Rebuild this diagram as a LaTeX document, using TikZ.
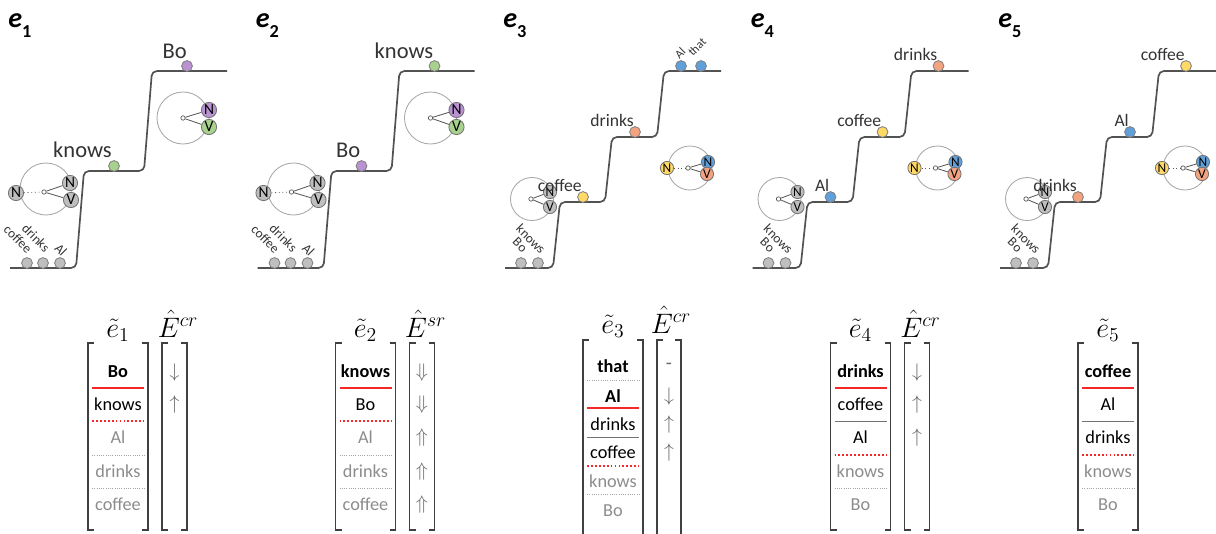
\RequirePackage{fix-cm}
\documentclass[tikz,border=0pt]{standalone}
\usepackage[no-math]{fontspec}
\setmainfont{Carlito}

\definecolor{ballgray}{RGB}{191,191,191}
\definecolor{ballgreen}{RGB}{169,209,142}
\definecolor{ballpurple}{RGB}{186,146,210}
\definecolor{ballblue}{RGB}{95,160,218}
\definecolor{ballorange}{RGB}{244,163,128}
\definecolor{ballyellow}{RGB}{255,217,102}
\definecolor{sepred}{RGB}{245,40,40}

\begin{document}
\begin{tikzpicture}[x=0.025cm,y=-0.025cm,
  stair/.style={draw=black!68,line width=1.2pt,rounded corners=3.5pt},
  ball/.style={circle,draw=black!50,line width=0.6pt,minimum size=0.27cm,inner sep=0pt},
  nvbig/.style={circle,draw=black!55,line width=0.6pt,minimum size=0.38cm,inner sep=0pt,font=\fontsize{11}{11}\selectfont},
  nvsmall/.style={nvbig,minimum size=0.33cm,font=\fontsize{9.5}{9.5}\selectfont},
  ring/.style={circle,draw=black!35,line width=0.6pt,inner sep=0pt},
  hub/.style={circle,draw=black!65,fill=white,line width=0.5pt,minimum size=0.11cm,inner sep=0pt},
  spoke/.style={draw=black!65,line width=0.6pt},
  paneltag/.style={anchor=base west,inner sep=0pt,font=\fontsize{20}{20}\selectfont\bfseries\itshape},
  bigword/.style={anchor=base east,inner sep=0pt,text=black!80,font=\fontsize{16}{16}\selectfont},
  word/.style={anchor=base east,inner sep=0pt,text=black!80,font=\fontsize{12.5}{12.5}\selectfont},
  tilt/.style={inner sep=0pt,text=black!80,rotate=-45,font=\fontsize{9.5}{9.5}\selectfont},
  tiltup/.style={inner sep=0pt,text=black!80,rotate=45,font=\fontsize{8.5}{8.5}\selectfont},
  colhead/.style={anchor=base,inner sep=0pt,font=\fontsize{20}{24}\selectfont},
  cell/.style={anchor=base,inner sep=0pt,font=\fontsize{13}{13}\selectfont},
  lead/.style={cell,font=\fontsize{13}{13}\selectfont\bfseries},
  dimcell/.style={cell,text=black!45},
  arr/.style={inner sep=0pt,text=black!60,font=\fontsize{14}{14}\selectfont},
  brk/.style={draw=black!75,line width=1.3pt},
  redline/.style={draw=sepred,line width=1.4pt},
  reddot/.style={draw=sepred,line width=1.4pt,dash pattern=on 1.3pt off 1.5pt},
  graydot/.style={draw=black!35,line width=0.6pt,dash pattern=on 0.6pt off 1pt},
  graysep/.style={draw=black!55,line width=0.7pt}]
\useasboundingbox (0,0) rectangle (1216,533);

% ---------------- e1
\node[paneltag] (tag1) at (8,27) {e\raisebox{-7.5pt}{\fontsize{13}{13}\selectfont\upshape 1}};
\draw[stair] (10,268) -- (76,268) -- (84,171) -- (144,171) -- (152,71) -- (227,71);
\node[ring,minimum size=1.3cm] (ringa1) at (46,189) {};
\node[hub] (huba1) at (44,192) {};
\node[nvbig,fill=ballgray] (na1) at (16,193) {N};
\node[nvbig,fill=ballgray] (nb1) at (70,183) {N};
\node[nvbig,fill=ballgray] (vb1) at (71,200) {V};
\draw[spoke,dotted] (na1) -- (huba1);
\draw[spoke] (huba1) -- (nb1);
\draw[spoke] (huba1) -- (vb1);
\node[ring,minimum size=1.3cm] (ringb1) at (183,118) {};
\node[hub] (hubb1) at (183,118) {};
\node[nvbig,fill=ballpurple] (nc1) at (209,110) {N};
\node[nvbig,fill=ballgreen] (vc1) at (209,127) {V};
\draw[spoke] (hubb1) -- (nc1);
\draw[spoke] (hubb1) -- (vc1);
\node[ball,fill=ballgray] (cof1) at (27,263) {};
\node[ball,fill=ballgray] (dri1) at (43,263) {};
\node[ball,fill=ballgray] (al1) at (60,263) {};
\node[tilt] (lcof1) at (18,239) {coffee};
\node[tilt] (ldri1) at (36,238) {drinks};
\node[tilt] (lal1) at (61,250) {Al};
\node[ball,fill=ballgreen] (kno1) at (114,166) {};
\node[bigword] (lkno1) at (112,157) {knows};
\node[ball,fill=ballpurple] (bo1) at (187,66) {};
\node[bigword] (lbo1) at (187,58) {Bo};
% matrix
\node[colhead] (ta1) at (118,337) {$\tilde{e}_1$};
\node[colhead] (ha1) at (178,337) {$\hat{E}^{cr}$};
\draw[brk] (94,343) -- (88,343) -- (88,530) -- (94,530);
\draw[brk] (142,343) -- (148,343) -- (148,530) -- (142,530);
\draw[brk] (168,343) -- (162,343) -- (162,530) -- (168,530);
\draw[brk] (181,343) -- (187,343) -- (187,530) -- (181,530);
\node[lead] (ra1) at (118,377) {Bo};
\node[cell] (rb1) at (118,410) {knows};
\node[dimcell] (rc1) at (118,443) {Al};
\node[dimcell] (rd1) at (118,477) {drinks};
\node[dimcell] (re1) at (118,510) {coffee};
\draw[redline] (92,388) -- (144,388);
\draw[reddot] (92,421) -- (144,421);
\draw[graydot] (92,455) -- (144,455);
\draw[graydot] (92,488) -- (144,488);
\node[arr] (aa1) at (174.5,373) {$\downarrow$};
\node[arr] (ab1) at (174.5,405) {$\uparrow$};

% ---------------- e2
\begin{scope}[shift={(247.5,0)}]
\node[paneltag] (tag2) at (8,27) {e\raisebox{-7.5pt}{\fontsize{13}{13}\selectfont\upshape 2}};
\draw[stair] (10,268) -- (76,268) -- (84,171) -- (144,171) -- (152,71) -- (227,71);
\node[ring,minimum size=1.3cm] (ringa2) at (46,189) {};
\node[hub] (huba2) at (44,192) {};
\node[nvbig,fill=ballgray] (na2) at (16,193) {N};
\node[nvbig,fill=ballgray] (nb2) at (70,183) {N};
\node[nvbig,fill=ballgray] (vb2) at (71,200) {V};
\draw[spoke,dotted] (na2) -- (huba2);
\draw[spoke] (huba2) -- (nb2);
\draw[spoke] (huba2) -- (vb2);
\node[ring,minimum size=1.3cm] (ringb2) at (183,118) {};
\node[hub] (hubb2) at (183,118) {};
\node[nvbig,fill=ballpurple] (nc2) at (209,110) {N};
\node[nvbig,fill=ballgreen] (vc2) at (209,127) {V};
\draw[spoke] (hubb2) -- (nc2);
\draw[spoke] (hubb2) -- (vc2);
\node[ball,fill=ballgray] (cof2) at (27,263) {};
\node[ball,fill=ballgray] (dri2) at (43,263) {};
\node[ball,fill=ballgray] (al2) at (60,263) {};
\node[tilt] (lcof2) at (18,239) {coffee};
\node[tilt] (ldri2) at (36,238) {drinks};
\node[tilt] (lal2) at (61,250) {Al};
\node[ball,fill=ballpurple] (bo2) at (114,166) {};
\node[bigword] (lbo2) at (113,157) {Bo};
\node[ball,fill=ballgreen] (kno2) at (187,66) {};
\node[bigword] (lkno2) at (186,58) {knows};
% matrix
\node[colhead] (ta2) at (118,337) {$\tilde{e}_2$};
\node[colhead] (ha2) at (178,337) {$\hat{E}^{sr}$};
\draw[brk] (94,343) -- (88,343) -- (88,530) -- (94,530);
\draw[brk] (142,343) -- (148,343) -- (148,530) -- (142,530);
\draw[brk] (168,343) -- (162,343) -- (162,530) -- (168,530);
\draw[brk] (181,343) -- (187,343) -- (187,530) -- (181,530);
\node[lead] (ra2) at (118,377) {knows};
\node[cell] (rb2) at (118,410) {Bo};
\node[dimcell] (rc2) at (118,443) {Al};
\node[dimcell] (rd2) at (118,477) {drinks};
\node[dimcell] (re2) at (118,510) {coffee};
\draw[redline] (92,388) -- (144,388);
\draw[reddot] (92,421) -- (144,421);
\draw[graydot] (92,455) -- (144,455);
\draw[graydot] (92,488) -- (144,488);
\node[arr] (aa2) at (174.5,373) {$\Downarrow$};
\node[arr] (ab2) at (174.5,405) {$\Downarrow$};
\node[arr] (ac2) at (174.5,438) {$\Uparrow$};
\node[arr] (ad2) at (174.5,472) {$\Uparrow$};
\node[arr] (ae2) at (174.5,505) {$\Uparrow$};
\end{scope}

% ---------------- e3
\begin{scope}[shift={(495,0)}]
\node[paneltag] (tag3) at (8,27) {e\raisebox{-7.5pt}{\fontsize{13}{13}\selectfont\upshape 3}};
\draw[stair] (10,268) -- (58,268) -- (65,202) -- (110,202) -- (117,137) -- (162,137) -- (169,71) -- (226,71);
\node[ring,minimum size=1.075cm] (ringa3) at (37,199) {};
\node[hub] (huba3) at (36,199) {};
\node[nvsmall,fill=ballgray] (nb3) at (55,192) {N};
\node[nvsmall,fill=ballgray] (vb3) at (55,207) {V};
\draw[spoke] (huba3) -- (nb3);
\draw[spoke] (huba3) -- (vb3);
\node[ring,minimum size=1.1cm] (ringb3) at (195,168) {};
\node[hub] (hubb3) at (193,168) {};
\node[nvsmall,fill=ballyellow] (na3) at (172,168) {N};
\node[nvsmall,fill=ballblue] (nc3) at (213,162) {N};
\node[nvsmall,fill=ballorange] (vc3) at (212,174) {V};
\draw[spoke,dotted] (na3) -- (hubb3);
\draw[spoke] (hubb3) -- (nc3);
\draw[spoke] (hubb3) -- (vc3);
\node[ball,fill=ballgray] (bo3) at (26,263) {};
\node[ball,fill=ballgray] (kno3) at (43,263) {};
\node[tilt] (lbo3) at (25,245) {Bo};
\node[tilt] (lkno3) at (36,239) {knows};
\node[ball,fill=ballyellow] (cof3) at (88,197) {};
\node[word] (lcof3) at (87,191) {coffee};
\node[ball,fill=ballorange] (dri3) at (140,132) {};
\node[word] (ldri3) at (139,126) {drinks};
\node[ball,fill=ballblue] (al3) at (186,66) {};
\node[ball,fill=ballblue] (tha3) at (206,66) {};
\node[tiltup] (lal3) at (185,53) {Al};
\node[tiltup] (ltha3) at (202,47) {that};
% matrix
\node[colhead] (ta3) at (118,333) {$\tilde{e}_3$};
\node[colhead] (ha3) at (176,333) {$\hat{E}^{cr}$};
\draw[brk] (94,340) -- (88,340) -- (88,540);
\draw[brk] (142,340) -- (148,340) -- (148,540);
\draw[brk] (168,340) -- (162,340) -- (162,540);
\draw[brk] (180,340) -- (186,340) -- (186,540);
\node[lead] (ra3) at (118,372) {that};
\node[lead] (rb3) at (118,402) {Al};
\node[cell] (rc3) at (118,430) {drinks};
\node[cell] (rd3) at (118,458) {coffee};
\node[dimcell] (re3) at (118,487) {knows};
\node[dimcell] (rf3) at (118,516) {Bo};
\draw[graydot] (92,380) -- (144,380);
\draw[redline] (92,408) -- (144,408);
\draw[graysep] (92,437) -- (144,437);
\draw[reddot] (92,466) -- (144,466);
\draw[graydot] (92,494) -- (144,494);
\node[arr] (aa3) at (174,366) {-};
\node[arr] (ab3) at (174,397) {$\downarrow$};
\node[arr] (ac3) at (174,425) {$\uparrow$};
\node[arr] (ad3) at (174,453) {$\uparrow$};
\end{scope}

% ---------------- e4
\begin{scope}[shift={(742.5,0)}]
\node[paneltag] (tag4) at (8,27) {e\raisebox{-7.5pt}{\fontsize{13}{13}\selectfont\upshape 4}};
\draw[stair] (10,268) -- (58,268) -- (65,202) -- (110,202) -- (117,137) -- (162,137) -- (169,71) -- (226,71);
\node[ring,minimum size=1.075cm] (ringa4) at (37,199) {};
\node[hub] (huba4) at (36,199) {};
\node[nvsmall,fill=ballgray] (nb4) at (55,192) {N};
\node[nvsmall,fill=ballgray] (vb4) at (55,207) {V};
\draw[spoke] (huba4) -- (nb4);
\draw[spoke] (huba4) -- (vb4);
\node[ring,minimum size=1.1cm] (ringb4) at (195,168) {};
\node[hub] (hubb4) at (193,168) {};
\node[nvsmall,fill=ballyellow] (na4) at (172,168) {N};
\node[nvsmall,fill=ballblue] (nc4) at (213,162) {N};
\node[nvsmall,fill=ballorange] (vc4) at (212,174) {V};
\draw[spoke,dotted] (na4) -- (hubb4);
\draw[spoke] (hubb4) -- (nc4);
\draw[spoke] (hubb4) -- (vc4);
\node[ball,fill=ballgray] (bo4) at (26,263) {};
\node[ball,fill=ballgray] (kno4) at (43,263) {};
\node[tilt] (lbo4) at (25,245) {Bo};
\node[tilt] (lkno4) at (36,239) {knows};
\node[ball,fill=ballblue] (al4) at (88,197) {};
\node[word] (lal4) at (87,191) {Al};
\node[ball,fill=ballyellow] (cof4) at (140,132) {};
\node[word] (lcof4) at (139,126) {coffee};
\node[ball,fill=ballorange] (dri4) at (196,66) {};
\node[word] (ldri4) at (195,60) {drinks};
% matrix
\node[colhead] (ta4) at (118,337) {$\tilde{e}_4$};
\node[colhead] (ha4) at (178,337) {$\hat{E}^{cr}$};
\draw[brk] (94,343) -- (88,343) -- (88,530) -- (94,530);
\draw[brk] (142,343) -- (148,343) -- (148,530) -- (142,530);
\draw[brk] (168,343) -- (162,343) -- (162,530) -- (168,530);
\draw[brk] (181,343) -- (187,343) -- (187,530) -- (181,530);
\node[lead] (ra4) at (118,377) {drinks};
\node[cell] (rb4) at (118,410) {coffee};
\node[cell] (rc4) at (118,443) {Al};
\node[dimcell] (rd4) at (118,477) {knows};
\node[dimcell] (re4) at (118,510) {Bo};
\draw[redline] (92,388) -- (144,388);
\draw[graysep] (92,421) -- (144,421);
\draw[reddot] (92,455) -- (144,455);
\draw[graydot] (92,488) -- (144,488);
\node[arr] (aa4) at (174.5,373) {$\downarrow$};
\node[arr] (ab4) at (174.5,405) {$\uparrow$};
\node[arr] (ac4) at (174.5,438) {$\uparrow$};
\end{scope}

% ---------------- e5
\begin{scope}[shift={(990,0)}]
\node[paneltag] (tag5) at (8,27) {e\raisebox{-7.5pt}{\fontsize{13}{13}\selectfont\upshape 5}};
\draw[stair] (10,268) -- (58,268) -- (65,202) -- (110,202) -- (117,137) -- (162,137) -- (169,71) -- (226,71);
\node[ring,minimum size=1.075cm] (ringa5) at (37,199) {};
\node[hub] (huba5) at (36,199) {};
\node[nvsmall,fill=ballgray] (nb5) at (55,192) {N};
\node[nvsmall,fill=ballgray] (vb5) at (55,207) {V};
\draw[spoke] (huba5) -- (nb5);
\draw[spoke] (huba5) -- (vb5);
\node[ring,minimum size=1.1cm] (ringb5) at (195,168) {};
\node[hub] (hubb5) at (193,168) {};
\node[nvsmall,fill=ballyellow] (na5) at (172,168) {N};
\node[nvsmall,fill=ballblue] (nc5) at (213,162) {N};
\node[nvsmall,fill=ballorange] (vc5) at (212,174) {V};
\draw[spoke,dotted] (na5) -- (hubb5);
\draw[spoke] (hubb5) -- (nc5);
\draw[spoke] (hubb5) -- (vc5);
\node[ball,fill=ballgray] (bo5) at (26,263) {};
\node[ball,fill=ballgray] (kno5) at (43,263) {};
\node[tilt] (lbo5) at (25,245) {Bo};
\node[tilt] (lkno5) at (36,239) {knows};
\node[ball,fill=ballorange] (dri5) at (88,197) {};
\node[word] (ldri5) at (87,191) {drinks};
\node[ball,fill=ballblue] (al5) at (140,132) {};
\node[word] (lal5) at (139,126) {Al};
\node[ball,fill=ballyellow] (cof5) at (196,66) {};
\node[word] (lcof5) at (195,60) {coffee};
% matrix
\node[colhead] (ta5) at (118,337) {$\tilde{e}_5$};
\draw[brk] (94,343) -- (88,343) -- (88,530) -- (94,530);
\draw[brk] (142,343) -- (148,343) -- (148,530) -- (142,530);
\node[lead] (ra5) at (118,377) {coffee};
\node[cell] (rb5) at (118,410) {Al};
\node[cell] (rc5) at (118,443) {drinks};
\node[dimcell] (rd5) at (118,477) {knows};
\node[dimcell] (re5) at (118,510) {Bo};
\draw[redline] (92,388) -- (144,388);
\draw[graysep] (92,421) -- (144,421);
\draw[reddot] (92,455) -- (144,455);
\draw[graydot] (92,488) -- (144,488);
\end{scope}
\end{tikzpicture}
\end{document}
